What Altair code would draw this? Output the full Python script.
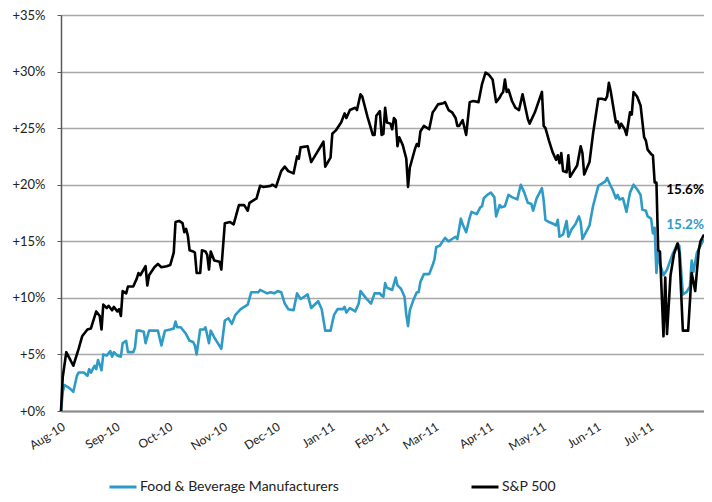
import altair as alt
import pandas as pd

# ---------------- data ----------------
START_DATE = "2010-08-01"          # first day of the x axis
series_names = ["Food & Beverage Manufacturers", "S&P 500"]
series_colors = ["#2E9BC6", "#000000"]

# month ticks shown on the x axis: (year, month)
x_tick_months = [(2010, 8), (2010, 9), (2010, 10), (2010, 11), (2010, 12), (2011, 1),
                 (2011, 2), (2011, 3), (2011, 4), (2011, 5), (2011, 6), (2011, 7)]

# days since 2010-08-01, cumulative % change
fb_day = [0, 1, 2, 5, 7, 9, 10, 13, 15, 16, 17, 19, 20, 21, 22, 23, 24, 26, 28, 29, 30, 32, 34, 35,
          37, 38, 41, 42, 43, 45, 47, 48, 50, 53, 55, 57, 59, 62, 64, 65, 66, 68, 71, 73, 75, 76,
          77, 79, 81, 82, 84, 85, 87, 89, 91, 93, 95, 97, 99, 102, 106, 108, 112, 113, 117, 119,
          121, 123, 125, 127, 129, 132, 134, 136, 138, 140, 142, 146, 148, 150, 153, 155, 157,
          160, 161, 162, 164, 167, 169, 170, 173, 176, 178, 181, 182, 183, 184, 185, 188, 190,
          191, 193, 195, 196, 197, 198, 200, 202, 203, 204, 206, 209, 211, 212, 213, 215, 218,
          220, 222, 224, 225, 227, 228, 230, 232, 233, 236, 238, 239, 240, 242, 244, 246, 247,
          249, 250, 252, 254, 256, 259, 261, 263, 265, 267, 268, 270, 273, 274, 275, 277, 280,
          281, 282, 283, 285, 287, 288, 290, 292, 294, 295, 296, 299, 300, 302, 305, 307, 309,
          310, 312, 313, 315, 316, 317, 319, 321, 322, 323, 325, 327, 329, 330, 332, 333, 335,
          336, 337, 338, 339, 340, 342, 344, 347, 350, 351, 353, 355, 357, 358, 359, 361, 365]
fb_value = [0.0, 1.7, 2.3, 2.0, 1.7, 3.1, 3.4, 3.4, 3.1, 3.7, 3.4, 4.0, 3.7, 4.5, 4.1, 3.6, 5.0,
            4.9, 5.3, 4.8, 5.2, 4.9, 4.8, 6.0, 6.2, 5.2, 5.2, 5.6, 7.1, 7.1, 7.0, 6.0, 7.1, 7.1,
            7.1, 5.8, 7.1, 7.2, 7.3, 7.9, 7.4, 7.4, 6.8, 6.2, 6.1, 5.8, 5.0, 7.2, 7.2, 7.4, 6.0,
            7.1, 6.5, 6.0, 5.5, 8.0, 8.2, 7.7, 8.5, 9.0, 9.4, 10.5, 10.5, 10.7, 10.4, 10.5, 10.4,
            10.6, 10.5, 9.5, 9.0, 8.9, 10.4, 9.9, 10.1, 10.3, 9.1, 9.7, 9.0, 7.1, 7.1, 8.5, 9.0,
            9.0, 9.2, 8.7, 9.1, 8.8, 9.5, 10.6, 10.0, 9.5, 10.4, 10.4, 10.2, 10.1, 11.3, 10.9,
            10.7, 11.8, 11.1, 10.8, 10.1, 8.5, 7.5, 8.9, 9.8, 10.5, 10.5, 11.4, 12.1, 12.1, 12.9,
            13.4, 14.5, 14.6, 15.3, 15.0, 15.2, 15.4, 15.2, 17.0, 16.5, 15.8, 17.1, 17.6, 17.4,
            18.0, 18.1, 18.8, 19.1, 19.3, 18.9, 17.2, 18.2, 18.0, 18.1, 19.1, 18.9, 18.7, 20.0,
            19.3, 18.4, 18.3, 17.7, 18.8, 19.7, 18.6, 16.9, 16.7, 16.5, 16.4, 16.9, 15.4, 15.6,
            16.8, 15.4, 16.1, 16.5, 17.2, 16.7, 15.2, 16.1, 16.4, 18.1, 19.9, 20.1, 20.3, 20.6,
            19.9, 19.6, 18.8, 19.1, 18.7, 18.8, 17.6, 18.5, 19.3, 20.0, 19.6, 19.1, 17.8, 17.7,
            17.2, 17.0, 15.7, 16.2, 12.2, 14.3, 13.0, 12.0, 12.5, 13.8, 14.8, 14.6, 10.3, 10.5,
            11.0, 13.3, 12.3, 14.0, 15.2]

sp_day = [0, 1, 3, 5, 7, 10, 12, 15, 17, 20, 22, 23, 24, 26, 27, 29, 30, 32, 33, 34, 35, 37, 38,
          41, 43, 44, 45, 48, 49, 50, 53, 55, 57, 60, 62, 64, 65, 67, 69, 70, 71, 72, 73, 75, 76,
          77, 79, 80, 82, 83, 84, 85, 87, 90, 91, 93, 96, 98, 101, 104, 106, 107, 111, 113, 115,
          119, 120, 122, 125, 127, 129, 132, 134, 135, 136, 140, 142, 144, 149, 150, 153, 154,
          156, 159, 161, 162, 164, 167, 168, 170, 171, 174, 177, 178, 179, 181, 182, 183, 184,
          185, 187, 188, 189, 190, 191, 192, 194, 196, 197, 198, 201, 202, 203, 204, 206, 209,
          211, 212, 214, 217, 218, 220, 222, 224, 225, 226, 228, 230, 232, 234, 237, 239, 241,
          243, 245, 247, 249, 250, 251, 252, 253, 254, 256, 258, 260, 262, 265, 266, 269, 273,
          274, 275, 277, 279, 281, 282, 283, 284, 285, 287, 288, 289, 291, 293, 295, 296, 297,
          300, 302, 305, 307, 309, 310, 311, 312, 314, 315, 316, 317, 318, 320, 321, 323, 324,
          325, 327, 329, 331, 332, 333, 335, 336, 337, 338, 339, 340, 342, 343, 344, 346, 348,
          350, 351, 353, 356, 358, 360, 362, 363, 365]
sp_value = [0.0, 3.0, 5.2, 4.6, 4.0, 5.5, 6.6, 7.2, 7.3, 8.8, 8.4, 7.2, 9.4, 9.1, 9.3, 8.9, 9.2,
            8.8, 9.0, 8.4, 10.6, 10.4, 11.0, 11.0, 11.7, 12.2, 12.0, 12.8, 11.1, 12.0, 12.7, 13.0,
            12.7, 12.8, 12.9, 14.0, 16.7, 16.8, 16.6, 15.8, 16.1, 15.5, 14.2, 14.1, 14.0, 12.2,
            12.2, 14.2, 14.1, 13.8, 12.5, 14.1, 13.3, 13.2, 12.5, 16.6, 16.7, 16.5, 18.2, 18.2,
            17.7, 18.4, 18.8, 19.9, 19.8, 19.9, 20.0, 19.8, 21.2, 21.6, 21.2, 21.0, 22.5, 22.3,
            23.3, 23.4, 22.0, 22.5, 23.8, 21.6, 22.4, 24.5, 24.8, 25.5, 26.3, 25.9, 26.6, 26.8,
            26.6, 28.0, 27.8, 26.0, 24.4, 24.4, 26.1, 26.5, 24.4, 24.5, 26.8, 25.5, 25.4, 24.9,
            25.9, 25.7, 23.4, 24.2, 23.5, 22.3, 19.8, 21.5, 23.2, 23.6, 23.4, 24.7, 25.2, 24.9,
            26.4, 26.6, 27.1, 27.2, 27.3, 26.6, 26.4, 25.9, 25.2, 25.2, 25.7, 24.4, 27.3, 27.4,
            27.3, 28.9, 29.9, 29.7, 29.3, 27.3, 27.7, 28.0, 28.2, 29.3, 28.2, 28.4, 27.4, 26.8,
            26.6, 28.0, 25.8, 25.4, 26.4, 28.2, 25.2, 25.0, 23.9, 22.9, 22.2, 22.6, 21.9, 22.8,
            21.2, 21.1, 22.6, 20.7, 21.2, 21.7, 23.4, 22.8, 20.9, 22.0, 24.5, 27.6, 27.6, 27.5,
            27.8, 29.0, 28.3, 26.4, 25.5, 25.6, 25.0, 25.4, 24.9, 24.4, 26.4, 26.2, 28.2, 27.8,
            27.0, 24.2, 23.9, 23.1, 22.7, 22.6, 20.2, 20.2, 14.2, 14.1, 6.6, 11.8, 6.8, 12.0,
            13.9, 14.8, 14.0, 7.1, 7.1, 12.2, 10.6, 14.2, 15.0, 15.6]

end_labels = ["15.2%", "15.6%"]
y_ticks = [0, 5, 10, 15, 20, 25, 30, 35]

# ---------------- tables ----------------
start = pd.Timestamp(START_DATE)


def frame(days, values, name):
    return pd.DataFrame({
        "date": start + pd.to_timedelta(days, unit="D"),
        "value": values,
        "series": name,
    })


lines_df = pd.concat([frame(fb_day, fb_value, series_names[0]),
                      frame(sp_day, sp_value, series_names[1])], ignore_index=True)

fb_end = frame(fb_day[-1:], fb_value[-1:], series_names[0]).assign(label=end_labels[0])
sp_end = frame(sp_day[-1:], sp_value[-1:], series_names[1]).assign(label=end_labels[1])

FONT = "Lato"

x_enc = alt.X(
    "date:T",
    scale=alt.Scale(domain=[alt.DateTime(year=2010, month=8, date=1),
                            alt.DateTime(year=2011, month=8, date=1)]),
    axis=alt.Axis(
        title=None, format="%b-%y",
        values=[alt.DateTime(year=y, month=m, date=1) for (y, m) in x_tick_months],
        labelAngle=328, labelAlign="right", labelBaseline="top", labelPadding=10,
        labelFont=FONT, labelFontSize=12, labelColor="#222222",
        grid=False, ticks=False, domainColor="#8c8c8c", domainWidth=2,
        labelOverlap=False, labelFlush=False,
    ),
)
y_enc = alt.Y(
    "value:Q",
    scale=alt.Scale(domain=[0, 35], nice=False),
    axis=alt.Axis(
        title=None, values=y_ticks, labelExpr="'+' + datum.value + '%'",
        labelFont=FONT, labelFontSize=13, labelColor="#222222", labelPadding=12,
        grid=True, gridColor="#a8a8a8", gridWidth=1.5,
        ticks=True, tickSize=4, tickColor="#595959", tickWidth=1,
        domainColor="#595959", domainWidth=1.5,
    ),
)

lines = alt.Chart(lines_df).mark_line(strokeWidth=2.6, strokeJoin="round").encode(
    x=x_enc,
    y=y_enc,
    color=alt.Color(
        "series:N",
        scale=alt.Scale(domain=series_names, range=series_colors),
        title=None,
        legend=alt.Legend(
            orient="none", legendX=47, legendY=457, direction="horizontal",
            symbolType="stroke", symbolSize=729, symbolStrokeWidth=3,
            labelFont=FONT, labelFontSize=14, labelColor="#222222",
            labelOffset=2, columnPadding=126, labelLimit=400,
        ),
    ),
    detail="series:N",
)

fb_text = alt.Chart(fb_end).mark_text(
    align="right", baseline="middle", dx=0, dy=-14,
    font=FONT, fontSize=13.5, fontWeight="bold", color=series_colors[0],
).encode(x="date:T", y="value:Q", text="label:N")

sp_text = alt.Chart(sp_end).mark_text(
    align="right", baseline="middle", dx=0, dy=-44,
    font=FONT, fontSize=13.5, fontWeight="bold", color=series_colors[1],
).encode(x="date:T", y="value:Q", text="label:N")

chart = alt.layer(lines, fb_text, sp_text).properties(
    width=643, height=396,
    autosize=alt.AutoSizeParams(type="none"),
    padding={"left": 53, "top": 7, "right": 0, "bottom": 83},
).configure_view(stroke=None).configure(background="white")

chart.save("out.html", embed_options={"renderer": "svg", "actions": False})
